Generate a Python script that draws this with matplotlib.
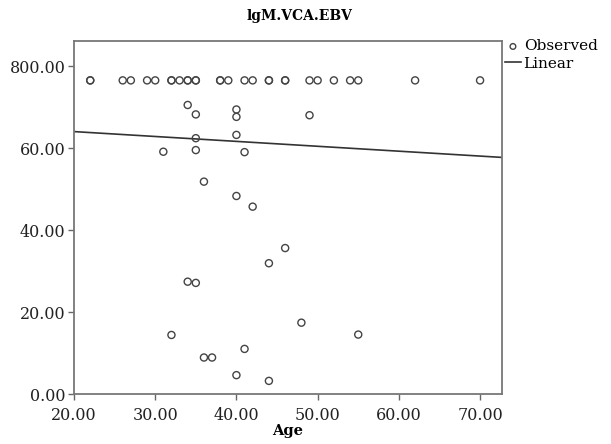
import matplotlib.pyplot as plt
import numpy as np

plt.rcParams['font.family'] = 'DejaVu Serif'

# Observed points (age, lgM.VCA.EBV)
top_ages = [22, 22, 26, 27, 29, 30, 32, 32, 33, 34, 34, 35, 35, 38, 38, 39, 41, 42,
            44, 44, 46, 46, 49, 50, 52, 54, 55, 62, 70]
top_value = 76.5

other_ages = [34, 35, 40, 40, 49, 35, 40, 31, 35, 41, 36, 40, 42, 46, 44, 34, 35,
              48, 32, 55, 41, 36, 37, 40, 44]
other_values = [70.5, 68.2, 69.4, 67.6, 68.0, 62.4, 63.2, 59.1, 59.5, 59.0, 51.8,
                48.3, 45.7, 35.6, 31.9, 27.4, 27.1, 17.4, 14.4, 14.5, 11.0, 8.9,
                8.9, 4.6, 3.2]

ages = np.array(top_ages + other_ages, dtype=float)
values = np.array([top_value] * len(top_ages) + other_values)

# Linear fit line as drawn (intercept, slope)
fit_intercept = 66.4
fit_slope = -0.1195

x_ticks = [20, 30, 40, 50, 60, 70]
x_tick_labels = ['20.00', '30.00', '40.00', '50.00', '60.00', '70.00']
y_ticks = [0, 20, 40, 60, 80]
y_tick_labels = ['0.00', '20.00', '40.00', '60.00', '800.00']

fig = plt.figure(figsize=(6.11, 4.44), dpi=100)
ax = fig.add_axes([0.1211, 0.1126, 0.7005, 0.795])

ax.scatter(ages, values, s=26, facecolors='none', edgecolors='#444444',
           linewidths=1.0, label='Observed', zorder=3)
xs = np.array([20, 72.7])
ax.plot(xs, fit_intercept + fit_slope * xs, color='#333333', linewidth=1.2,
        label='Linear')

ax.set_xlim(20, 72.7)
ax.set_ylim(0, 86.1)
ax.set_xticks(x_ticks)
ax.set_xticklabels(x_tick_labels)
ax.set_yticks(y_ticks)
ax.set_yticklabels(y_tick_labels)
ax.tick_params(direction='out', length=4, width=1, color='#666666',
               labelsize=11.5, labelcolor='#222222')
ax.tick_params(axis='x', pad=5)
ax.tick_params(axis='y', pad=2)

for s in ax.spines.values():
    s.set_color('#777777')
    s.set_linewidth(1.3)

ax.set_xlabel('Age', fontsize=10.5, fontweight='bold', labelpad=0)
fig.text(0.49, 0.965, 'lgM.VCA.EBV', ha='center', va='center',
         fontsize=10, fontweight='bold')

fig.legend(loc='upper left', bbox_to_anchor=(0.822, 0.918), frameon=False,
           fontsize=11, handlelength=1.0, handletextpad=0.2,
           labelspacing=0.2, borderaxespad=0, borderpad=0.2,
           markerscale=0.8)

plt.savefig('out.png', dpi=100)
plt.close()
